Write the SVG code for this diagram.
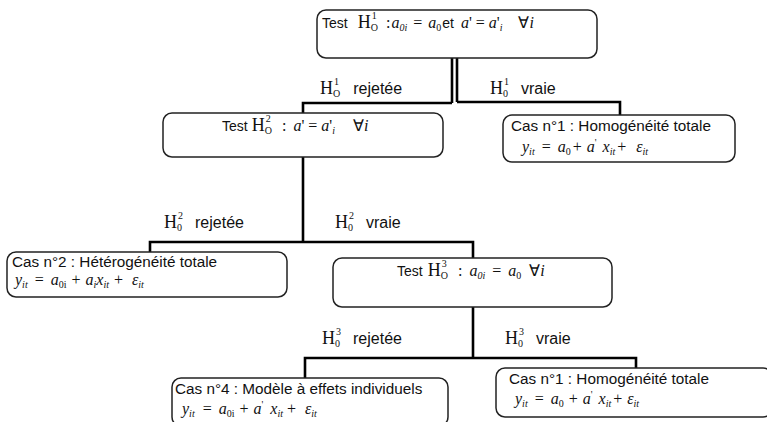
<svg xmlns="http://www.w3.org/2000/svg" width="767" height="422" viewBox="0 0 767 422">
<style>
.box{fill:#fff;stroke:#222;stroke-width:1.5}
.ln{fill:none;stroke:#000;stroke-width:2.6}
.s{font-family:"Liberation Sans",Arial,sans-serif;font-size:14px;fill:#111}
.m{font-family:"Liberation Serif","Times New Roman",serif;font-size:16px;fill:#111}
.mi{font-family:"Liberation Serif","Times New Roman",serif;font-size:16px;font-style:italic;fill:#111}
.H{font-family:"Liberation Serif","Times New Roman",serif;font-size:18px;fill:#111}
.sub{font-size:10px}
.lb{font-size:16px}
.cas{font-size:15.3px}
</style>
<rect width="767" height="422" fill="#fff"/>
<g id="connectors">
<line class="ln" x1="452" y1="58" x2="452" y2="103"/>
<line class="ln" x1="457" y1="58" x2="457" y2="102"/>
<polyline class="ln" points="452,103 303,103 303,113"/>
<polyline class="ln" points="457,102 620,102 620,115"/>
<line class="ln" x1="303" y1="157" x2="303" y2="242"/>
<polyline class="ln" points="150,252 150,242 473,242 473,258"/>
<line class="ln" x1="473" y1="307" x2="473" y2="358"/>
<polyline class="ln" points="305,378 305,358 636,358 636,368"/>
</g>
<g id="labels">
<text x="320" y="94"><tspan class="H">H</tspan><tspan class="m sub" dx="1" dy="-9">1</tspan><tspan class="m sub" dx="-6" dy="12">O</tspan><tspan class="s lb" dx="13" dy="-3">rejetée</tspan></text>
<text x="490" y="94"><tspan class="H">H</tspan><tspan class="m sub" dx="1" dy="-9">1</tspan><tspan class="m sub" dx="-6" dy="12">0</tspan><tspan class="s lb" dx="13" dy="-3">vraie</tspan></text>
<text x="164" y="228"><tspan class="H">H</tspan><tspan class="m sub" dx="1" dy="-9">2</tspan><tspan class="m sub" dx="-6" dy="12">0</tspan><tspan class="s lb" dx="13" dy="-3">rejetée</tspan></text>
<text x="335" y="228"><tspan class="H">H</tspan><tspan class="m sub" dx="1" dy="-9">2</tspan><tspan class="m sub" dx="-6" dy="12">0</tspan><tspan class="s lb" dx="13" dy="-3">vraie</tspan></text>
<text x="322" y="344"><tspan class="H">H</tspan><tspan class="m sub" dx="1" dy="-9">3</tspan><tspan class="m sub" dx="-6" dy="12">0</tspan><tspan class="s lb" dx="13" dy="-3">rejetée</tspan></text>
<text x="505" y="344"><tspan class="H">H</tspan><tspan class="m sub" dx="1" dy="-9">3</tspan><tspan class="m sub" dx="-6" dy="12">0</tspan><tspan class="s lb" dx="13" dy="-3">vraie</tspan></text>
</g>
<g id="test1">
<rect class="box" x="317" y="10" width="280" height="48" rx="9"/>
<text x="322" y="28"><tspan class="s">Test</tspan><tspan class="H" dx="10">H</tspan><tspan class="m sub" dx="1" dy="-9">1</tspan><tspan class="m sub" dx="-6" dy="12">O</tspan><tspan class="m" dx="8" dy="-3">:</tspan><tspan class="mi" dx="1">a</tspan><tspan class="mi sub" dy="3">0i</tspan><tspan class="m" dx="6" dy="-3">=</tspan><tspan class="mi" dx="6">a</tspan><tspan class="m sub" dy="3">0</tspan><tspan class="s" dx="1" dy="-3">et</tspan><tspan class="mi" dx="7">a</tspan><tspan class="m">' = </tspan><tspan class="mi">a</tspan><tspan class="m">'</tspan><tspan class="mi sub" dy="3">i</tspan><tspan class="m" dx="16" dy="-3">∀</tspan><tspan class="mi">i</tspan></text>
</g>
<g id="test2">
<rect class="box" x="163" y="113" width="280" height="44" rx="9"/>
<text x="222" y="131"><tspan class="s">Test</tspan><tspan class="H" dx="4">H</tspan><tspan class="m sub" dx="1" dy="-9">2</tspan><tspan class="m sub" dx="-6" dy="12">O</tspan><tspan class="m" dx="10" dy="-3">:</tspan><tspan class="mi" dx="7">a</tspan><tspan class="m">' = </tspan><tspan class="mi">a</tspan><tspan class="m">'</tspan><tspan class="mi sub" dy="3">i</tspan><tspan class="m" dx="18" dy="-3">∀</tspan><tspan class="mi">i</tspan></text>
</g>
<g id="cas1a">
<rect class="box" x="503" y="115" width="232" height="47" rx="9"/>
<text class="s cas" x="511" y="131">Cas n°1 : Homogénéité totale</text>
<text x="522" y="152"><tspan class="mi">y</tspan><tspan class="mi sub" dy="3">it</tspan><tspan class="m" dx="7" dy="-3">=</tspan><tspan class="mi" dx="7">a</tspan><tspan class="m sub" dy="3">0</tspan><tspan class="m" dx="2" dy="-3">+</tspan><tspan class="mi" dx="5">a</tspan><tspan class="m sub" dy="-6">'</tspan><tspan class="mi" dx="6" dy="6">x</tspan><tspan class="mi sub" dy="3">it</tspan><tspan class="m" dx="2" dy="-3">+</tspan><tspan class="mi" dx="10">ε</tspan><tspan class="mi sub" dy="3">it</tspan></text>
</g>
<g id="cas2">
<rect class="box" x="7" y="252" width="280" height="45" rx="9"/>
<text class="s cas" x="12" y="267">Cas n°2 : Hétérogénéité totale</text>
<text x="15" y="285"><tspan class="mi">y</tspan><tspan class="mi sub" dy="3">it</tspan><tspan class="m" dx="7" dy="-3">=</tspan><tspan class="mi" dx="7">a</tspan><tspan class="m sub" dy="3">0i</tspan><tspan class="m" dx="5" dy="-3">+</tspan><tspan class="mi" dx="5">a</tspan><tspan class="mi sub" dy="3">i</tspan><tspan class="mi" dy="-3">x</tspan><tspan class="mi sub" dy="3">it</tspan><tspan class="m" dx="5" dy="-3">+</tspan><tspan class="mi" dx="9">ε</tspan><tspan class="mi sub" dy="3">it</tspan></text>
</g>
<g id="test3">
<rect class="box" x="333" y="258" width="279" height="49" rx="9"/>
<text x="397" y="276"><tspan class="s">Test</tspan><tspan class="H" dx="5">H</tspan><tspan class="m sub" dx="1" dy="-9">3</tspan><tspan class="m sub" dx="-6" dy="12">O</tspan><tspan class="m" dx="10" dy="-3">:</tspan><tspan class="mi" dx="7">a</tspan><tspan class="mi sub" dy="3">0i</tspan><tspan class="m" dx="7" dy="-3">=</tspan><tspan class="mi" dx="7">a</tspan><tspan class="m sub" dy="3">0</tspan><tspan class="m" dx="8" dy="-3">∀</tspan><tspan class="mi">i</tspan></text>
</g>
<g id="cas4">
<rect class="box" x="172" y="378" width="276" height="48" rx="9"/>
<text class="s cas" x="175" y="394">Cas n°4 : Modèle à effets individuels</text>
<text x="182" y="414"><tspan class="mi">y</tspan><tspan class="mi sub" dy="3">it</tspan><tspan class="m" dx="8" dy="-3">=</tspan><tspan class="mi" dx="7">a</tspan><tspan class="m sub" dy="3">0i</tspan><tspan class="m" dx="5" dy="-3">+</tspan><tspan class="mi" dx="5">a</tspan><tspan class="m sub" dy="-6">'</tspan><tspan class="mi" dx="7" dy="6">x</tspan><tspan class="mi sub" dy="3">it</tspan><tspan class="m" dx="4" dy="-3">+</tspan><tspan class="mi" dx="9">ε</tspan><tspan class="mi sub" dy="3">it</tspan></text>
</g>
<g id="cas1b">
<rect class="box" x="496" y="368" width="276" height="49" rx="9"/>
<text class="s cas" x="509" y="384">Cas n°1 : Homogénéité totale</text>
<text x="515" y="404"><tspan class="mi">y</tspan><tspan class="mi sub" dy="3">it</tspan><tspan class="m" dx="7" dy="-3">=</tspan><tspan class="mi" dx="7">a</tspan><tspan class="m sub" dy="3">0</tspan><tspan class="m" dx="5" dy="-3">+</tspan><tspan class="mi" dx="5">a</tspan><tspan class="m sub" dy="-6">'</tspan><tspan class="mi" dx="6" dy="6">x</tspan><tspan class="mi sub" dy="3">it</tspan><tspan class="m" dx="2" dy="-3">+</tspan><tspan class="mi" dx="5">ε</tspan><tspan class="mi sub" dy="3">it</tspan></text>
</g>
</svg>
